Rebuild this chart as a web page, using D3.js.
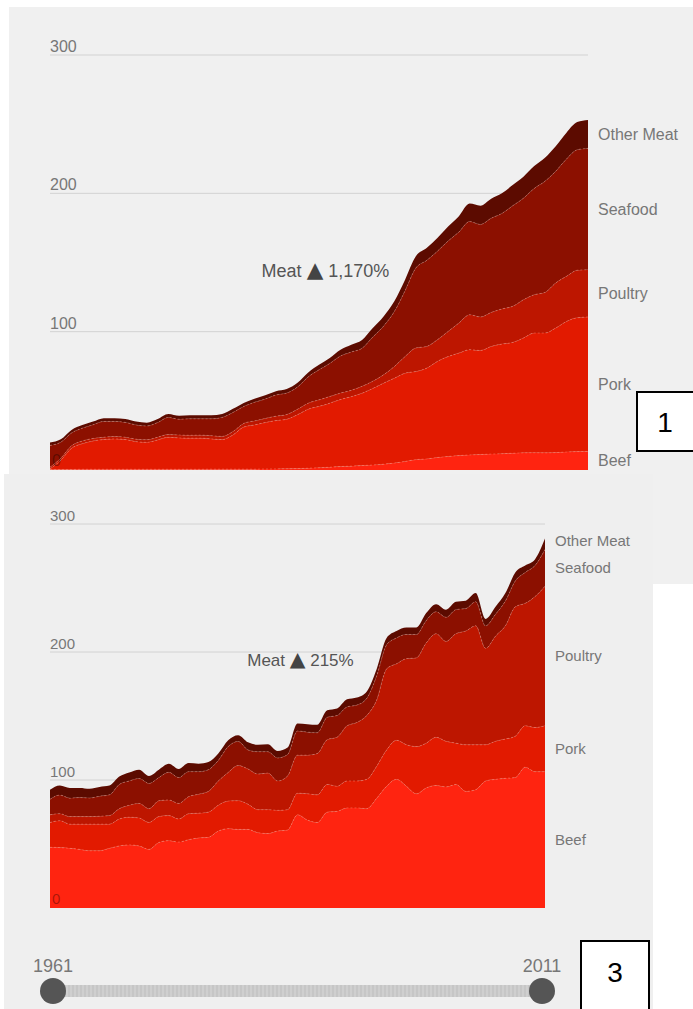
<!DOCTYPE html>
<html>
<head>
<meta charset="utf-8">
<script src="https://cdn.jsdelivr.net/npm/d3@7"></script>
<style>
  body { margin: 0; background: #fff; }
  svg { display: block; font-family: "Liberation Sans", Arial, sans-serif; }
</style>
</head>
<body>
<svg id="chart" width="693" height="1009"></svg>
<script>
// ---- data ----
const years = d3.range(1961, 2012);
const keys = ['Beef', 'Pork', 'Poultry', 'Seafood', 'Other Meat'];
const colors = ['#ff2410', '#e21a00', '#bd1600', '#8c1000', '#5c0b00'];
const gridTicks = [100, 200, 300];

// upper chart (meat +1,170%)
const topBeef = [0.4,0.4,0.4,0.5,0.5,0.5,0.5,0.5,0.5,0.5, 0.5,0.5,0.5,0.5,0.5,0.6,0.6,0.6,0.6,0.6,
  0.7,0.8,0.9,1.0,1.3,1.6,2.0,2.5,2.8,3.2, 3.6,4.2,5.0,6.2,7.5,8.0,9.0,9.8,10.4,10.9,
  11.2,11.5,11.8,12.1,12.4,12.5,12.4,12.6,13.0,13.3, 13.4];
const topPork = [0.4,6.6,15.3,18.5,20.5,21.5,22.0,21.5,20.0,19.5, 21.2,23.1,22.7,22.5,22.5,21.9,21.4,24.7,30.4,32.0,
  33.6,34.9,35.8,39.0,42.7,44.4,46.3,48.5,50.2,52.3, 55.4,58.6,61.4,63.8,63.7,65.6,69.5,72.2,74.1,76.1,
  75.2,77.8,79.2,80.1,83.0,86.5,86.6,90.0,94.4,96.7, 97.2];
const topPoultry = [1.2,1.5,1.8,1.9,1.8,1.7,1.7,1.7,1.8,1.9, 2.0,2.0,2.1,2.1,2.2,2.3,2.3,2.5,2.7,2.9,
  3.0,3.2,3.4,3.9,4.3,4.7,4.8,4.6,4.6,5.0, 5.2,6.0,8.4,12.0,17.0,15.7,15.6,18.2,21.7,25.2,
  24.2,24.6,25.4,26.1,27.7,27.7,29.4,32.6,32.6,34.4, 34.2];
const topSeafood = [15.8,11.6,9.3,9.3,9.9,11.4,10.9,10.7,10.3,9.9, 10.6,12.4,11.4,11.9,11.8,12.2,13.7,13.8,12.2,13.4,
  14.0,15.3,15.5,16.1,19.0,21.7,23.9,26.8,27.7,27.5, 31.9,35.2,39.7,47.6,57.8,62.2,64.0,65.3,65.8,67.4,
  66.9,68.1,69.1,72.7,73.4,76.8,80.3,80.8,84.8,87.1, 87.7];
const topOther = [2.0,2.1,2.2,2.3,2.3,2.4,2.4,2.4,2.4,2.4, 2.5,2.5,2.5,2.5,2.5,2.5,2.5,2.6,2.6,2.6,
  2.7,2.8,2.9,3.0,3.2,3.6,4.0,4.6,5.2,6.0, 6.5,7.0,7.5,8.0,8.5,9.0,9.7,10.5,11.5,13.0,
  13.5,14.0,14.5,15.0,15.5,16.2,17.0,18.0,19.0,20.0, 20.5];

// lower chart (meat +215%)
const bottomBeef = [47.4,47.2,46.6,45.8,44.7,44.7,46.6,48.5,49.3,48.5, 45.8,51.2,52.6,51.5,53.4,54.7,55.2,60.1,62.0,61.4,
  61.4,58.8,58.2,60.1,60.9,72.8,68.7,66.8,74.9,75.5, 78.2,78.2,77.6,85.7,95.1,100.5,95.1,89.2,93.8,95.7,
  94.6,96.5,91.1,92.4,99.2,100.5,101.3,101.9,110.0,106.5, 106.5];
const bottomPork = [19.4,21.0,18.9,19.7,20.8,20.8,18.9,21.0,21.6,21.8, 21.0,20.2,19.6,18.0,20.2,19.4,19.7,20.2,21.5,22.4,
  19.7,18.0,18.6,16.2,15.9,16.9,20.5,21.6,21.6,19.6, 21.0,21.0,22.9,25.1,28.3,30.5,32.4,36.9,35.0,37.7,
  35.6,32.3,36.4,35.1,28.3,29.7,30.7,32.3,32.3,34.5, 35.8];
const bottomPoultry = [6.0,5.5,5.9,5.9,5.9,6.2,6.7,8.1,9.4,11.4, 10.8,12.4,12.2,12.2,13.4,14.8,16.2,18.9,22.4,27.5,
  27.5,27.8,28.6,22.9,26.4,29.7,30.2,32.3,35.0,38.3, 43.1,45.8,49.9,51.7,63.4,59.8,67.3,69.3,78.2,80.9,
  78.1,85.5,88.9,93.0,75.4,82.2,88.5,101.1,95.7,102.4, 109.1];
const bottomSeafood = [12.1,14.5,14.4,14.9,14.5,15.6,16.2,18.9,18.9,19.4, 19.7,18.1,21.6,20.2,19.5,17.6,17.0,16.1,20.2,18.8,
  14.9,17.5,16.7,18.0,16.7,18.9,18.0,16.2,17.5,17.0, 14.8,13.5,13.4,18.9,18.8,20.2,18.9,18.3,17.5,17.1,
  18.8,18.8,17.5,18.8,17.5,17.0,19.3,20.2,24.2,24.2, 28.7];
const bottomOther = [7.5,7.5,8.0,7.5,7.3,7.3,7.3,6.2,6.7,7.0, 5.9,6.2,6.7,6.7,6.7,6.2,5.9,5.4,4.9,4.9,
  5.9,5.4,5.9,5.4,5.4,5.9,6.2,6.2,5.4,5.4, 5.9,5.9,5.4,5.4,5.4,5.4,5.4,5.4,5.9,6.0,
  6.0,6.2,6.2,6.7,5.4,5.9,6.2,6.7,5.4,4.9, 8.5];

const sliderYears = [1961, 2011];

const svg = d3.select('#chart');

// panel backgrounds (two screenshots stacked)
svg.append('rect').attr('x', 9).attr('y', 7).attr('width', 684).attr('height', 577).attr('fill', '#f0f0f0');
svg.append('rect').attr('x', 4).attr('y', 474).attr('width', 649).attr('height', 535).attr('fill', '#efefef');

function drawPanel(cfg) {
  const g = svg.append('g');
  const rows = years.map((yr, i) => {
    const r = { year: yr };
    keys.forEach((k, j) => r[k] = cfg.series[j][i]);
    return r;
  });
  const stacked = d3.stack().keys(keys)(rows);

  const x = d3.scaleLinear().domain([1961, 2011]).range([cfg.left, cfg.right]);
  const y = d3.scaleLinear().domain([0, 300]).range([cfg.base, cfg.top]);

  // gridlines
  g.selectAll('.grid').data(gridTicks).join('line')
    .attr('x1', cfg.left).attr('x2', cfg.right)
    .attr('y1', d => y(d)).attr('y2', d => y(d))
    .attr('stroke', '#d2d2d2').attr('stroke-width', 1);
  g.selectAll('.tick').data(gridTicks).join('text')
    .attr('x', cfg.left).attr('y', d => y(d) - 3)
    .attr('fill', '#777').style('font-size', cfg.fs + 'px')
    .text(d => d);

  const area = d3.area()
    .x(d => x(d.data.year))
    .y0(d => y(d[0])).y1(d => y(d[1]))
    .curve(d3.curveMonotoneX);
  g.selectAll('.layer').data(stacked).join('path')
    .attr('d', area)
    .attr('fill', (d, i) => colors[i]);

  // faint boundary lines between layers
  const edge = d3.line().x(d => x(d.data.year)).y(d => y(d[1])).curve(d3.curveMonotoneX);
  g.selectAll('.edge').data(stacked.slice(0, 4)).join('path')
    .attr('d', edge).attr('fill', 'none')
    .attr('stroke', 'rgba(255,170,150,0.45)').attr('stroke-width', 0.8)
    .attr('stroke-dasharray', '2,2');

  // zero label over the area
  g.append('text').attr('x', cfg.left + 2).attr('y', cfg.base - 4)
    .attr('fill', '#000').attr('fill-opacity', 0.35)
    .style('font-size', cfg.fs + 'px').text('0');

  // series labels at the last year, nudged apart
  const last = stacked.map((s, i) => ({ name: keys[i], y: y((s[s.length - 1][0] + s[s.length - 1][1]) / 2) }));
  for (let i = last.length - 2; i >= 0; i--) {
    // labels are ordered bottom to top: keep min gap
    if (last[i].y - last[i + 1].y < cfg.gap) last[i + 1].y = last[i].y - cfg.gap;
  }
  g.selectAll('.lab').data(last).join('text')
    .attr('x', cfg.right + 10).attr('y', d => d.y)
    .attr('dy', '0.35em')
    .attr('fill', '#777').style('font-size', cfg.fs + 'px')
    .text(d => d.name);

  // annotation
  const note = g.append('text')
    .attr('x', x(cfg.noteYear)).attr('y', y(cfg.noteValue))
    .attr('dy', '0.35em').attr('text-anchor', 'middle')
    .attr('fill', '#555').style('font-size', cfg.noteFs + 'px');
  note.append('tspan').text('Meat ');
  note.append('tspan').attr('fill', '#444')
    .style('font-family', '"DejaVu Sans"').style('font-size', (cfg.noteFs * 1.2) + 'px')
    .text('\u25B2');
  note.append('tspan').text(' ' + cfg.note);
}

drawPanel({
  series: [topBeef, topPork, topPoultry, topSeafood, topOther],
  left: 50, right: 588, base: 470, top: 55, fs: 16, gap: 27,
  noteYear: 1986.6, noteValue: 144, note: '1,170%', noteFs: 18
});

drawPanel({
  series: [bottomBeef, bottomPork, bottomPoultry, bottomSeafood, bottomOther],
  left: 50, right: 545, base: 908, top: 524, fs: 15, gap: 27,
  noteYear: 1986.3, noteValue: 194, note: '215%', noteFs: 17
});

// year slider
const sx = d3.scaleLinear().domain(sliderYears).range([53, 542]);
const defs = svg.append('defs');
const pat = defs.append('pattern').attr('id', 'stripes')
  .attr('width', 4).attr('height', 4).attr('patternUnits', 'userSpaceOnUse');
pat.append('rect').attr('width', 4).attr('height', 4).attr('fill', '#cfcfcf');
pat.append('rect').attr('width', 2).attr('height', 4).attr('fill', '#c6c6c6');

svg.append('rect')
  .attr('x', sx(1961)).attr('y', 985).attr('width', sx(2011) - sx(1961)).attr('height', 12)
  .attr('fill', 'url(#stripes)');
svg.selectAll('.handle').data(sliderYears).join('circle')
  .attr('cx', d => sx(d)).attr('cy', 991).attr('r', 13).attr('fill', '#555');
svg.selectAll('.ylab').data(sliderYears).join('text')
  .attr('x', d => sx(d)).attr('y', 972).attr('text-anchor', 'middle')
  .attr('fill', '#777').style('font-size', '18px')
  .text(d => d);

// numbered boxes
const boxes = [{ n: '1', x: 637, y: 392, w: 62, h: 59 }, { n: '3', x: 581, y: 941, w: 68, h: 72 }];
svg.selectAll('.box').data(boxes).join('rect')
  .attr('x', d => d.x).attr('y', d => d.y).attr('width', d => d.w).attr('height', d => d.h)
  .attr('fill', '#fff').attr('stroke', '#000').attr('stroke-width', 2);
svg.selectAll('.boxnum').data(boxes).join('text')
  .attr('x', d => d.n === '1' ? 665 : 615).attr('y', d => d.n === '1' ? 432 : 982)
  .attr('text-anchor', 'middle').attr('fill', '#000').style('font-size', '28px')
  .text(d => d.n);
</script>
</body>
</html>
